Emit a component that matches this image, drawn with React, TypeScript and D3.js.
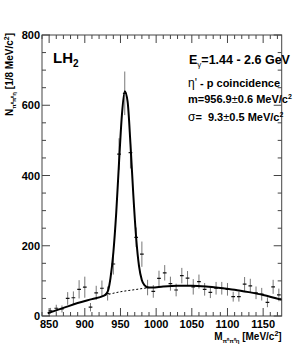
import React from "react";
import * as d3 from "d3";

// ---- data ----
const mass = [852, 860, 868, 876, 884, 892, 900, 908, 916, 924, 932, 940, 948, 956, 964, 972, 980, 988, 996, 1004, 1012, 1020, 1028, 1036, 1044, 1052, 1060, 1068, 1076, 1084, 1092, 1100, 1108, 1116, 1124, 1132, 1140, 1148, 1156, 1164, 1172];
const counts = [15, 22, 20, 50, 52, 76, 82, 25, 66, 79, 64, 148, 461, 634, 465, 224, 176, 81, 70, 107, 123, 92, 74, 115, 108, 83, 98, 76, 67, 79, 79, 76, 55, 55, 91, 86, 66, 62, 39, 83, 60];
const errors = [8, 10, 10, 18, 18, 26, 30, 12, 20, 22, 20, 30, 45, 62, 45, 28, 36, 22, 18, 22, 22, 20, 18, 22, 20, 22, 20, 18, 16, 18, 18, 18, 14, 14, 20, 20, 18, 18, 14, 20, 18];

// fit curve (signal + background)
const fitM = [848, 870, 890, 910, 926, 930, 933, 936, 940, 944, 948, 952, 956, 960, 964, 968, 972, 976, 980, 984, 988, 994, 1010, 1030, 1050, 1070, 1090, 1110, 1130, 1150, 1176];
const fitV = [8, 23, 37, 48, 57, 63, 75, 108, 180, 292, 438, 572, 640, 610, 490, 345, 222, 142, 102, 87, 82, 81, 84, 86, 86, 84, 80, 75, 68, 60, 46];

// background under the peak (dashed)
const bgM = [928, 950, 970, 990];
const bgV = [59, 69, 75, 81];

const xMajorTicks = [850, 900, 950, 1000, 1050, 1100, 1150];
const yMajorTicks = [0, 200, 400, 600, 800];

const X_DOMAIN = [840, 1176];
const Y_DOMAIN = [0, 800];

export default function App() {
  const left = 42, right = 281.7, top = 35, bottom = 316;
  const x = d3.scaleLinear().domain(X_DOMAIN).range([left, right]);
  const y = d3.scaleLinear().domain(Y_DOMAIN).range([bottom, top]);

  const xMinor = d3.range(840, 1177, 10).filter((v) => !xMajorTicks.includes(v));
  const yMinor = d3.range(0, 801, 50).filter((v) => !yMajorTicks.includes(v));

  const fitLine = d3
    .line<number>()
    .x((_, i) => x(fitM[i]))
    .y((d) => y(d))
    .curve(d3.curveMonotoneX);
  const bgLine = d3
    .line<number>()
    .x((_, i) => x(bgM[i]))
    .y((d) => y(d))
    .curve(d3.curveMonotoneX);

  const font = "'Liberation Sans', Arial, Helvetica, sans-serif";
  const axisColor = "#444";
  const majorLen = 8, minorLen = 4;

  return (
    <svg
      width={300}
      height={351}
      style={{ position: "absolute", left: 0, top: 0, background: "#fff" }}
      fontFamily={font}
    >
      <defs>
        <clipPath id="plotClip">
          <rect x={left} y={top} width={right - left} height={bottom - top} />
        </clipPath>
      </defs>

      {/* frame */}
      <rect x={left} y={top} width={right - left} height={bottom - top} fill="none" stroke={axisColor} strokeWidth={1} />

      {/* x ticks bottom & top */}
      {xMajorTicks.map((t) => (
        <g key={"xM" + t}>
          <line x1={x(t)} x2={x(t)} y1={bottom} y2={bottom - majorLen} stroke={axisColor} />
          <line x1={x(t)} x2={x(t)} y1={top} y2={top + majorLen} stroke={axisColor} />
        </g>
      ))}
      {xMinor.map((t) => (
        <g key={"xm" + t}>
          <line x1={x(t)} x2={x(t)} y1={bottom} y2={bottom - minorLen} stroke={axisColor} />
          <line x1={x(t)} x2={x(t)} y1={top} y2={top + minorLen} stroke={axisColor} />
        </g>
      ))}
      {/* y ticks left & right */}
      {yMajorTicks.map((t) => (
        <g key={"yM" + t}>
          <line x1={left} x2={left + majorLen} y1={y(t)} y2={y(t)} stroke={axisColor} />
          <line x1={right} x2={right - majorLen} y1={y(t)} y2={y(t)} stroke={axisColor} />
        </g>
      ))}
      {yMinor.map((t) => (
        <g key={"ym" + t}>
          <line x1={left} x2={left + minorLen} y1={y(t)} y2={y(t)} stroke={axisColor} />
          <line x1={right} x2={right - minorLen} y1={y(t)} y2={y(t)} stroke={axisColor} />
        </g>
      ))}

      {/* tick labels */}
      {xMajorTicks.map((t) => (
        <text key={"xl" + t} x={x(t)} y={bottom + 12} textAnchor="middle" fontSize={11} fontWeight="bold">
          {t}
        </text>
      ))}
      {yMajorTicks.map((t) => (
        <text key={"yl" + t} x={left - 2} y={y(t) + 4} textAnchor="end" fontSize={11} fontWeight="bold">
          {t}
        </text>
      ))}

      {/* axis titles */}
      <text x={right} y={340} textAnchor="end" fontSize={10} fontWeight="bold">
        M
        <tspan fontSize={6} dy={3}>π⁰π⁰η</tspan>
        <tspan dy={-3}> [MeV/c</tspan>
        <tspan fontSize={7} dy={-4}>2</tspan>
        <tspan dy={4}>]</tspan>
      </text>
      <text transform={`translate(13,${top - 2}) rotate(-90)`} textAnchor="end" fontSize={10} fontWeight="bold">
        N
        <tspan fontSize={6} dy={3}>π⁰π⁰η</tspan>
        <tspan dy={-3}> [1/8 MeV/c</tspan>
        <tspan fontSize={7} dy={-4}>2</tspan>
        <tspan dy={4}>]</tspan>
      </text>

      {/* data & fit */}
      <g clipPath="url(#plotClip)">
        <path d={bgLine(bgV) || ""} fill="none" stroke="#000" strokeWidth={1} strokeDasharray="2,2" />
        {mass.map((m, i) => (
          <g key={"p" + m}>
            <line x1={x(m)} x2={x(m)} y1={y(counts[i] - errors[i])} y2={y(counts[i] + errors[i])} stroke="#777" strokeWidth={1} />
            <line x1={x(m - 4) + 1} x2={x(m + 4) - 1} y1={y(counts[i])} y2={y(counts[i])} stroke="#111" strokeWidth={1.2} />
          </g>
        ))}
        <path d={fitLine(fitV) || ""} fill="none" stroke="#000" strokeWidth={2} />
      </g>

      {/* labels */}
      <text x={53} y={63} fontSize={15} fontWeight="bold">
        LH<tspan fontSize={10} dy={4}>2</tspan>
      </text>
      <text x={189} y={64} fontSize={12.5} fontWeight="bold">
        E<tspan fontSize={8} dy={3} fontWeight="normal">γ</tspan>
        <tspan dy={-3}>=1.44 - 2.6 GeV</tspan>
      </text>
      <text x={188} y={87} fontSize={11} fontWeight="bold">
        <tspan fontWeight="normal" fontSize={12}>η'</tspan>
        <tspan> - p coincidence</tspan>
      </text>
      <text x={188} y={103} fontSize={11} fontWeight="bold">
        m=956.9<tspan fontWeight="normal">±</tspan>0.6 MeV/c<tspan fontSize={7} dy={-4}>2</tspan>
      </text>
      <text x={188} y={121} fontSize={11} fontWeight="bold">
        <tspan fontWeight="normal" fontSize={12}>σ</tspan>{"=\u00a0 9.3"}<tspan fontWeight="normal">±</tspan>0.5 MeV/c
        <tspan fontSize={7} dy={-4}>2</tspan>
      </text>
    </svg>
  );
}
